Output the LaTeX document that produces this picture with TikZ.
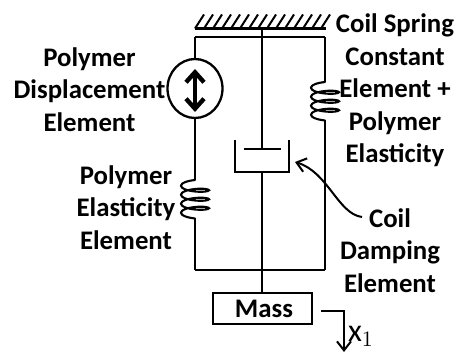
\documentclass[tikz,border=0pt]{standalone}
\usepackage{fontspec}
\setmainfont{Carlito}
\usetikzlibrary{arrows.meta,positioning,shapes.geometric}
\tikzset{
  wire/.style={line width=1.15pt, draw=black},
  hatch/.style={line width=1pt, draw=black},
  thinwire/.style={line width=1pt, draw=black},
  springcoil/.pic={
    \draw[line width=1.05pt, line cap=round] plot[smooth, samples=57, domain=0:1260, variable=\t]
      ({-14*sin(\t)},{-3.5*cos(\t)+3.5+9*\t/360});
  },
  pointer/.style={-{Straight Barb[length=4.5pt,width=7pt,line width=1pt]}, line width=1pt, draw=black},
  boldarrow/.style={{Straight Barb[length=5pt,width=9pt,line width=2.2pt]}-{Straight Barb[length=5pt,width=9pt,line width=2.2pt]}, line width=2.2pt},
  massbox/.style={draw=black, line width=1.15pt, minimum width=49.5pt, minimum height=15.5pt, inner sep=0pt, fill=white},
  dispel/.style={ellipse, draw=black, line width=1.15pt, minimum width=27.5pt, minimum height=29.5pt, inner sep=0pt},
  caption/.style={font=\fontsize{13.4}{16.2}\selectfont\bfseries, align=center, inner sep=0pt}
}
\begin{document}
\begin{tikzpicture}[x=0.5pt,y=-0.5pt]
  \useasboundingbox (0,0) rectangle (457,352);
  % ceiling
  \coordinate (ceilL) at (195,28.5);
  \coordinate (ceilR) at (326,28.5);
  \coordinate (ceilM) at (262,28.5);
  \draw[wire] (ceilL) -- (ceilR);
  \foreach \hx in {0,...,14}
    \draw[hatch] (195+9*\hx,28.5) -- ++(9,-14);
  % frame corners
  \coordinate (topL) at (195,37);
  \coordinate (topR) at (325,37);
  \coordinate (botL) at (195,270);
  \coordinate (botR) at (325,270);
  \coordinate (botM) at (262,270);
  \draw[wire] (topL) -- (topR);
  \draw[wire] (botL) -- (botR);
  % left branch
  \node[dispel] (disp) at (195,88.5) {};
  \coordinate (lsTop) at (195,180);
  \coordinate (lsBot) at (195,218.5);
  \draw[wire] (topL) -- (disp);
  \draw[wire] (disp) -- (lsTop);
  \pic at (lsTop) {springcoil};
  \draw[wire] (lsBot) -- (botL);
  \coordinate (dispT) at (195,69);
  \coordinate (dispB) at (195,112);
  \draw[boldarrow] (dispT) -- (dispB);
  % right branch
  \coordinate (rsTop) at (325,82);
  \coordinate (rsBot) at (325,120.5);
  \draw[wire] (topR) -- (rsTop);
  \pic at (rsTop) {springcoil};
  \draw[wire] (rsBot) -- (botR);
  % damper
  \coordinate (cupTL) at (235,140);
  \coordinate (cupTR) at (289,140);
  \coordinate (cupBL) at (235,172);
  \coordinate (cupBR) at (289,172);
  \coordinate (cupBM) at (262,172);
  \coordinate (pistL) at (244,149.5);
  \coordinate (pistR) at (281,149.5);
  \coordinate (pistM) at (262,149.5);
  \draw[wire] (cupTL) -- (cupBL) -- (cupBR) -- (cupTR);
  \draw[thinwire] (pistL) -- (pistR);
  \draw[wire] (ceilM) -- (pistM);
  \draw[wire] (cupBM) -- (botM);
  % mass
  \node[massbox] (mass) at (262.5,308.5) {};
  \node[caption] (masslbl) at (264,308.5) {Mass};
  \draw[wire] (botM) -- (mass.north -| botM);
  \coordinate (xStart) at (321,311);
  \coordinate (xCorner) at (344,311);
  \coordinate (xEnd) at (344,352);
  \draw[pointer] (xStart) -- (xCorner) -- (xEnd);
  \node[font=\fontsize{16}{18}\selectfont, inner sep=0pt] (xlbl) at (361,336) {$\mathrm{x}_1$};
  % labels
  \node[caption] (dispcap) at (89.5,89.5) {Polymer\\Displacement\\Element};
  \node[caption] (polycap) at (126,207.5) {Polymer\\Elasticity\\Element};
  \node[caption] (springcap) at (395,90.5) {Coil Spring\\Constant\\Element +\\Polymer\\Elasticity};
  \node[caption] (dampcap) at (390,250.5) {Coil\\Damping\\Element};
  \coordinate (dampFrom) at (362,217);
  \coordinate (dampTo) at (295,162);
  \draw[pointer] (dampFrom) .. controls (338,214) and (328,172) .. (dampTo);
\end{tikzpicture}
\end{document}
